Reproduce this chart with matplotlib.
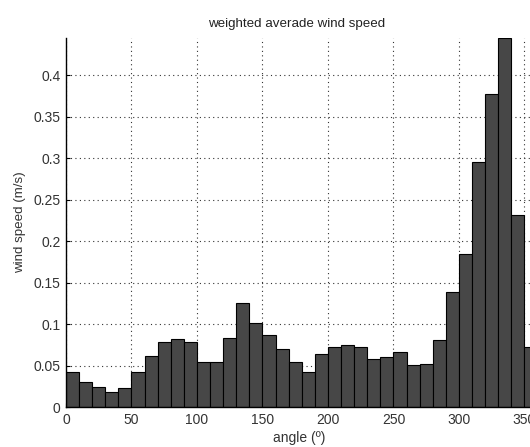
"""Weighted average wind speed per 10-degree direction bin (MATLAB-style bar chart)."""

import matplotlib

matplotlib.use("Agg")
import matplotlib.pyplot as plt  # noqa: E402

# bin left edges (deg) and weighted average speed per bin (m/s)
bin_edges = list(range(0, 360, 10))
speeds = [
    0.043, 0.030, 0.025, 0.018, 0.023, 0.042, 0.062, 0.079, 0.082, 0.079,
    0.055, 0.055, 0.084, 0.126, 0.102, 0.087, 0.070, 0.055, 0.043, 0.064,
    0.072, 0.075, 0.072, 0.058, 0.060, 0.067, 0.051, 0.052, 0.081, 0.139,
    0.184, 0.295, 0.377, 0.445, 0.231, 0.073,
]
x_ticks = [0, 50, 100, 150, 200, 250, 300, 350]
y_ticks = [0, 0.05, 0.1, 0.15, 0.2, 0.25, 0.3, 0.35, 0.4]
y_tick_labels = ["0", "0.05", "0.1", "0.15", "0.2", "0.25", "0.3", "0.35", "0.4"]

plt.rcParams["font.family"] = ["Liberation Sans", "DejaVu Sans"]

fig = plt.figure(figsize=(5.30, 4.47), dpi=100)
# original figure was cropped on the right, so the axes run past the edge
ax = fig.add_axes([0.1245, 0.0888, 0.8898, 0.827])

ax.bar(bin_edges, speeds, width=10, align="edge",
       color="#474747", edgecolor="black", linewidth=0.8, zorder=2)

ax.set_xlim(0, 360)
ax.set_ylim(0, max(speeds))
ax.set_xticks(x_ticks)
ax.set_yticks(y_ticks)
ax.set_yticklabels(y_tick_labels)

ax.grid(True, linestyle=(0, (1, 3)), color="#333333", linewidth=0.8, zorder=1)
ax.set_axisbelow(True)

for side in ("top", "right"):
    ax.spines[side].set_visible(False)
for side in ("left", "bottom"):
    ax.spines[side].set_linewidth(1.0)
    ax.spines[side].set_zorder(3)

ax.tick_params(direction="in", length=3, width=0.8, labelsize=10,
               labelcolor="#333333", pad=4)

ax.set_title("weighted averade wind speed", fontsize=9.6, x=0.488, pad=8,
             color="#222222")
ax.set_xlabel("angle (º)", fontsize=10, color="#333333")
ax.xaxis.set_label_coords(0.495, -0.064)
ax.set_ylabel("wind speed (m/s)", fontsize=9.6, labelpad=5, color="#333333")

fig.savefig("out.png", dpi=100, facecolor="white")
